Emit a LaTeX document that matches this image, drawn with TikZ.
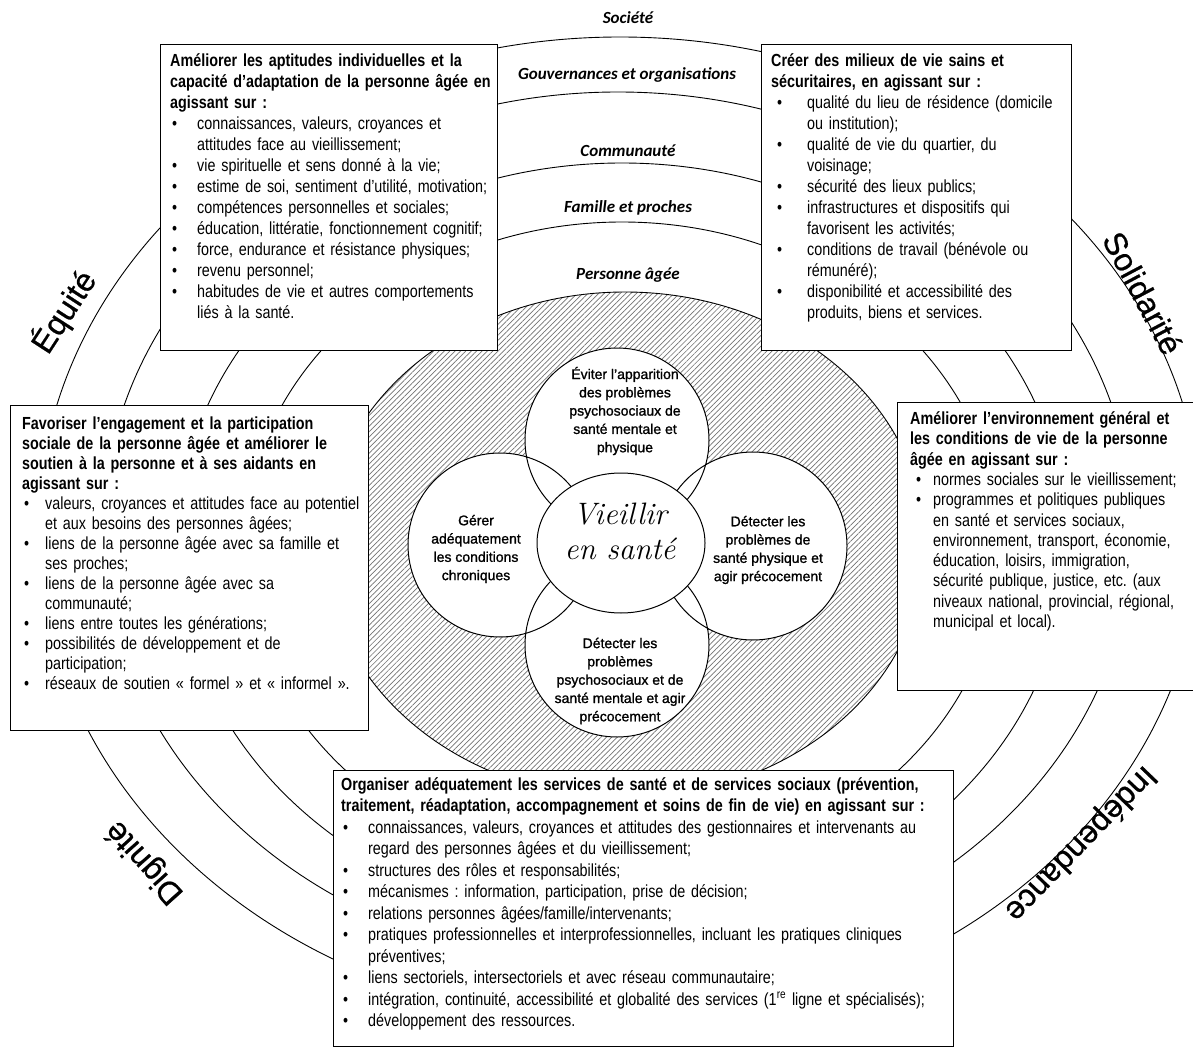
\documentclass[tikz,border=0pt]{standalone}
\usepackage{fontspec}
\usetikzlibrary{patterns.meta}
\newfontfamily\arn{Liberation Sans}[FakeStretch=0.82]
\newfontfamily\ari{Liberation Sans}[FakeBold=0.6]
\newfontfamily\arib{Liberation Sans}[FakeBold=1.2]
\newfontfamily\carl{Carlito}
\newlength\jw
\newlength\bi
\newlength\bp
\newcommand\hj[1]{\makebox[\jw][s]{#1}}
\newcommand\bj[1]{\makebox[\dimexpr\jw-\bi\relax][s]{#1}}
\newcommand\bul[1]{\par\noindent\hangindent=\bi\hangafter=1\hspace*{\bp}\makebox[\dimexpr\bi-\bp\relax][l]{\textbullet}\begingroup\let\\\newline#1\endgroup\par}
\frenchspacing
\begin{document}
\frenchspacing
\begin{tikzpicture}[x=1pt,y=-1pt,
  ring/.style={line width=0.9pt},
  boxnode/.style={draw, line width=1.4pt, fill=white, inner sep=0pt, anchor=north west},
  boxtext/.style={anchor=base west, inner sep=0pt, text width=700pt, align=left, font=\arn\frenchspacing\fontsize{17.5}{21}\selectfont},
  layer/.style={font=\carl\bfseries\itshape\fontsize{17}{20}\selectfont, inner sep=0pt},
  value/.style={font=\ari\fontsize{32}{36}\selectfont, inner sep=0pt},
  petaltext/.style={align=center, font=\arib\fontsize{14}{18.3}\selectfont, inner sep=0pt},
]
\path[use as bounding box, fill=white] (0,0) rectangle (1193,1048);

% concentric rings
\draw[ring] (620,530) ellipse [x radius=582pt, y radius=493pt];
\draw[ring] (618,530) ellipse [x radius=515pt, y radius=438pt];
\draw[ring] (622,545) ellipse [x radius=445pt, y radius=382pt];
\draw[ring] (622,548) ellipse [x radius=378pt, y radius=326pt];

% hatched inner zone
\fill[white] (625,545) ellipse [x radius=300pt, y radius=253pt];
\fill[pattern={Lines[angle=45,distance=3.8pt,line width=0.7pt]}, pattern color=black!55] (625,545) ellipse [x radius=300pt, y radius=253pt];
\draw[ring] (625,545) ellipse [x radius=300pt, y radius=253pt];

% petals
\fill[white] (617,440) circle[radius=92pt] (500,545) circle[radius=92pt] (753,546) circle[radius=94pt] (617,645) circle[radius=92pt];
\draw[line width=1pt] (617,440) circle[radius=92pt] (500,545) circle[radius=92pt] (753,546) circle[radius=94pt] (617,645) circle[radius=92pt];
\filldraw[fill=white, line width=1pt] (621,543) ellipse [x radius=84pt, y radius=70pt];

% layer labels
\node[layer] (soc) at (628,18) {Société};
\node[layer] (gov) at (627,75) {Gouvernances et organisations};
\node[layer] (com) at (628,151) {Communauté};
\node[layer] (fam) at (628,208) {Famille et proches};
\node[layer] (per) at (628,275) {Personne âgée};

% values
\node[value, rotate=57] (equ) at (64,312) {Équité};
\node[value, rotate=-62] (sol) at (1143,293) {Solidarité};
\node[value, rotate=132] (dig) at (145,862) {Dignité};
\node[value, rotate=226] (ind) at (1080,843) {Indépendance};

% petal texts
\node[petaltext] (ptop) at (625,411) {Éviter l’apparition\\des problèmes\\psychosociaux de\\santé mentale et\\physique};
\node[petaltext] (pleft) at (476,549) {Gérer\\adéquatement\\les conditions\\chroniques};
\node[petaltext] (pright) at (768,550) {Détecter les\\problèmes de\\santé physique et\\agir précocement};
\node[petaltext] (pbot) at (620,681) {Détecter les\\problèmes\\psychosociaux et de\\santé mentale et agir\\précocement};
\node[align=center, font=\rmfamily\itshape\fontsize{31}{35}\selectfont, inner sep=0pt] (ctr) at (620,531) {Vieillir\\en santé};

% boxes
\node[boxnode, minimum width=337pt, minimum height=306pt] (b1) at (160,44) {};
\node[boxnode, minimum width=310pt, minimum height=306pt] (b2) at (761,44) {};
\node[boxnode, minimum width=358pt, minimum height=325pt] (b3) at (10,405) {};
\node[boxnode, minimum width=303pt, minimum height=288pt] (b4) at (897,402) {};
\node[boxnode, minimum width=620pt, minimum height=276pt] (b5) at (333,770) {};

\node[boxtext] (t1) at (170,66.5) {\setlength\jw{317pt}\setlength\bi{27pt}\setlength\bp{2pt}%
{\bfseries\hj{Améliorer les aptitudes individuelles et la}\\\hj{capacité d’adaptation de la personne âgée en}\\agissant sur :}%
\bul{connaissances, valeurs, croyances et\\attitudes face au vieillissement;}%
\bul{vie spirituelle et sens donné à la vie;}%
\bul{estime de soi, sentiment d’utilité, motivation;}%
\bul{compétences personnelles et sociales;}%
\bul{éducation, littératie, fonctionnement cognitif;}%
\bul{force, endurance et résistance physiques;}%
\bul{revenu personnel;}%
\bul{habitudes de vie et autres comportements\\liés à la santé.}};

\node[boxtext] (t2) at (771,66.5) {\setlength\jw{290pt}\setlength\bi{36pt}\setlength\bp{6pt}%
{\bfseries\hj{Créer des milieux de vie sains et}\\sécuritaires, en agissant sur :}%
\bul{qualité du lieu de résidence (domicile\\ou institution);}%
\bul{qualité de vie du quartier, du\\voisinage;}%
\bul{sécurité des lieux publics;}%
\bul{infrastructures et dispositifs qui\\favorisent les activités;}%
\bul{conditions de travail (bénévole ou\\rémunéré);}%
\bul{disponibilité et accessibilité des\\produits, biens et services.}};

\node[boxtext, font=\arn\frenchspacing\fontsize{17.5}{20}\selectfont] (t3) at (22,429.5) {\setlength\jw{336pt}\setlength\bi{23pt}\setlength\bp{2pt}%
{\bfseries\hj{Favoriser l’engagement et la participation}\\\hj{sociale de la personne âgée et améliorer le}\\\hj{soutien à la personne et à ses aidants en}\\agissant sur :}%
\bul{valeurs, croyances et attitudes face au potentiel\\et aux besoins des personnes âgées;}%
\bul{liens de la personne âgée avec sa famille et\\ses proches;}%
\bul{liens de la personne âgée avec sa\\communauté;}%
\bul{liens entre toutes les générations;}%
\bul{possibilités de développement et de\\participation;}%
\bul{réseaux de soutien « formel » et « informel ».}};

\node[boxtext, font=\arn\frenchspacing\fontsize{17.5}{20.3}\selectfont] (t4) at (910,424.5) {\setlength\jw{277pt}\setlength\bi{23pt}\setlength\bp{6pt}%
{\bfseries\hj{Améliorer l’environnement général et}\\\hj{les conditions de vie de la personne}\\âgée en agissant sur :}%
\bul{normes sociales sur le vieillissement;}%
\bul{programmes et politiques publiques\\en santé et services sociaux,\\environnement, transport, économie,\\éducation, loisirs, immigration,\\sécurité publique, justice, etc. (aux\\niveaux national, provincial, régional,\\municipal et local).}};

\node[boxtext, font=\arn\frenchspacing\fontsize{17.5}{21.5}\selectfont] (t5) at (341,790) {\setlength\jw{604pt}\setlength\bi{27pt}\setlength\bp{2pt}%
{\bfseries\hj{Organiser adéquatement les services de santé et de services sociaux (prévention,}\\traitement, réadaptation, accompagnement et soins de fin de vie) en agissant sur :}%
\bul{\bj{connaissances, valeurs, croyances et attitudes des gestionnaires et intervenants au}\\regard des personnes âgées et du vieillissement;}%
\bul{structures des rôles et responsabilités;}%
\bul{mécanismes : information, participation, prise de décision;}%
\bul{relations personnes âgées/famille/intervenants;}%
\bul{\bj{pratiques professionnelles et interprofessionnelles, incluant les pratiques cliniques}\\préventives;}%
\bul{liens sectoriels, intersectoriels et avec réseau communautaire;}%
\bul{intégration, continuité, accessibilité et globalité des services (1\textsuperscript{re} ligne et spécialisés);}%
\bul{développement des ressources.}};
\end{tikzpicture}
\end{document}
